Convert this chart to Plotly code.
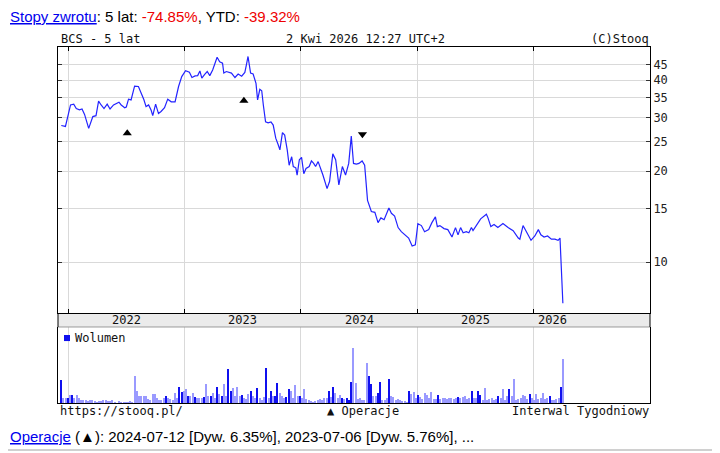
import pandas as pd
import plotly.graph_objects as go

# --- dane: kurs tygodniowy BCS ---
price_dates = [
    '2021-12-10', '2021-12-23', '2022-01-08', '2022-01-18', '2022-01-26', '2022-02-05', '2022-02-13',
    '2022-02-21', '2022-03-06', '2022-03-14', '2022-03-19', '2022-03-29', '2022-04-06', '2022-04-14',
    '2022-04-23', '2022-05-03', '2022-05-12', '2022-05-23', '2022-06-09', '2022-06-16', '2022-06-27',
    '2022-07-02', '2022-07-09', '2022-07-17', '2022-07-28', '2022-08-09', '2022-08-18', '2022-08-26',
    '2022-09-02', '2022-09-10', '2022-09-18', '2022-09-23', '2022-10-02', '2022-10-11', '2022-10-19',
    '2022-10-30', '2022-11-09', '2022-11-20', '2022-12-02', '2022-12-13', '2022-12-23', '2023-01-04',
    '2023-01-16', '2023-01-24', '2023-02-03', '2023-02-11', '2023-02-18', '2023-02-24', '2023-03-05',
    '2023-03-13', '2023-03-21', '2023-03-30', '2023-04-13', '2023-04-21', '2023-04-30', '2023-05-04',
    '2023-05-12', '2023-05-21', '2023-05-28', '2023-06-08', '2023-06-18', '2023-06-29', '2023-07-09',
    '2023-07-14', '2023-07-19', '2023-07-27', '2023-08-04', '2023-08-13', '2023-08-18', '2023-08-25',
    '2023-08-31', '2023-09-05', '2023-09-12', '2023-09-20', '2023-09-29', '2023-10-06', '2023-10-14',
    '2023-10-22', '2023-10-27', '2023-11-04', '2023-11-11', '2023-11-19', '2023-11-25', '2023-12-03',
    '2023-12-08', '2023-12-16', '2023-12-20', '2023-12-27', '2024-01-03', '2024-01-10', '2024-01-17',
    '2024-01-27', '2024-02-03', '2024-02-10', '2024-02-16', '2024-02-24', '2024-03-02', '2024-03-10',
    '2024-03-23', '2024-03-31', '2024-04-10', '2024-04-19', '2024-04-29', '2024-05-10', '2024-05-20',
    '2024-05-30', '2024-06-07', '2024-06-14', '2024-06-23', '2024-07-01', '2024-07-11', '2024-07-19',
    '2024-07-28', '2024-08-09', '2024-08-20', '2024-08-30', '2024-09-08', '2024-09-18', '2024-10-03',
    '2024-10-11', '2024-10-21', '2024-11-01', '2024-11-11', '2024-11-27', '2024-12-04', '2024-12-15',
    '2024-12-25', '2025-01-02', '2025-01-13', '2025-01-23', '2025-02-05', '2025-02-15', '2025-02-26',
    '2025-03-04', '2025-03-12', '2025-03-25', '2025-04-06', '2025-04-19', '2025-04-30', '2025-05-08',
    '2025-05-16', '2025-05-24', '2025-06-03', '2025-06-11', '2025-06-19', '2025-06-24', '2025-07-05',
    '2025-07-18', '2025-08-05', '2025-08-10', '2025-08-19', '2025-08-29', '2025-09-10', '2025-09-26',
    '2025-10-12', '2025-10-28', '2025-11-13', '2025-11-18', '2025-11-28', '2025-12-09', '2025-12-23',
    '2026-01-04', '2026-01-15', '2026-01-23', '2026-02-02', '2026-02-13', '2026-02-25', '2026-03-08',
    '2026-03-18', '2026-03-24', '2026-04-02',
]
price_values = [
    28.3, 28.1, 33.1, 33.3, 32.2, 31.9, 32.1,
    30.8, 27.7, 29.5, 30.3, 30.5, 34.1, 33.1,
    32.2, 33.3, 32.1, 33.1, 33.8, 33.1, 32.4,
    32.6, 34.6, 34.4, 38.2, 38.1, 36.2, 34.5,
    32.7, 33.1, 31.8, 30.5, 33.3, 31.0, 31.5,
    32.4, 34.6, 33.9, 33.9, 38.1, 41.1, 43.0,
    42.5, 40.8, 41.3, 41.4, 42.9, 40.6, 41.8,
    42.7, 41.4, 43.2, 47.6, 46.0, 45.5, 42.2,
    42.7, 42.4, 42.2, 40.8, 41.9, 41.2, 42.4,
    45.0, 47.9, 42.2, 41.9, 39.0, 34.4, 37.3,
    36.9, 33.1, 29.1, 28.9, 29.1, 28.4, 25.7,
    24.4, 23.5, 26.8, 26.3, 23.5, 20.9, 22.3,
    20.7, 20.5, 19.4, 21.8, 22.2, 19.6, 20.4,
    20.7, 21.6, 21.2, 20.7, 21.5, 20.6, 19.4,
    17.5, 18.5, 22.8, 21.8, 18.0, 20.7, 19.4,
    21.2, 26.1, 21.2, 21.1, 21.2, 21.6, 20.9,
    16.0, 14.7, 14.6, 13.5, 14.0, 13.8, 15.1,
    14.5, 14.2, 13.0, 12.6, 12.2, 12.0, 11.3,
    11.4, 13.4, 13.2, 12.6, 12.8, 13.5, 14.1,
    13.1, 13.2, 12.9, 12.8, 12.1, 13.0, 12.3,
    13.0, 12.5, 12.6, 12.5, 13.0, 12.7, 13.2,
    13.9, 14.4, 14.0, 13.1, 13.3, 13.0, 13.4,
    13.0, 12.7, 12.0, 11.9, 13.2, 12.6, 11.8,
    12.2, 12.8, 12.3, 12.1, 12.2, 11.9, 11.9,
    11.8, 12.0, 7.3,
]

# wolumen tygodniowy (jednostki umowne), od 2021-12-10 co tydzien
volume_start = '2021-12-10'
volume_values = [
    23.0, 5.0, 4.7, 5.3, 7.7, 8.0, 5.0, 7.7, 5.0, 3.3,
    2.7, 2.7, 2.0, 2.7, 3.3, 2.0, 1.3, 2.0, 2.0, 3.3,
    2.7, 2.0, 2.0, 2.7, 0.7, 0.0, 2.0, 1.3, 0.7, 1.3,
    0.7, 2.0, 1.3, 27.3, 11.7, 7.3, 7.3, 7.3, 7.3, 4.0,
    2.7, 9.3, 9.3, 4.7, 3.3, 3.3, 4.7, 6.7, 5.3, 4.0,
    3.3, 10.3, 5.3, 16.0, 11.0, 12.0, 13.7, 6.7, 7.3, 10.3,
    6.0, 4.7, 5.3, 5.3, 6.0, 18.7, 6.7, 6.7, 10.0, 5.3,
    16.0, 9.3, 6.7, 18.7, 6.7, 34.0, 12.0, 14.7, 6.7, 16.0,
    6.7, 8.0, 5.3, 4.0, 9.3, 12.0, 6.7, 5.3, 15.0, 5.3,
    3.3, 6.0, 35.3, 5.3, 12.0, 7.3, 6.7, 20.0, 10.0, 6.7,
    5.3, 6.0, 14.0, 12.0, 5.3, 17.7, 7.3, 6.7, 4.7, 14.3,
    4.0, 2.7, 2.0, 1.3, 2.0, 2.7, 4.0, 3.3, 5.3, 5.3,
    12.0, 6.0, 16.0, 10.0, 5.3, 7.7, 5.3, 4.0, 5.3, 3.3,
    21.0, 55.3, 20.0, 4.0, 5.3, 3.3, 3.3, 40.0, 27.3, 18.7,
    7.3, 7.3, 10.0, 21.0, 2.7, 3.3, 5.3, 24.0, 7.3, 6.0,
    3.3, 4.3, 2.7, 2.0, 2.0, 1.3, 12.0, 9.3, 11.0, 5.3,
    7.7, 6.0, 4.3, 10.0, 7.7, 5.3, 11.0, 4.3, 4.3, 7.7,
    4.0, 4.7, 4.7, 4.0, 4.7, 4.7, 4.3, 5.3, 6.0, 5.3,
    6.0, 6.7, 4.0, 4.7, 12.0, 5.3, 5.3, 12.0, 7.7, 3.3,
    15.3, 3.3, 4.3, 5.3, 3.3, 4.3, 6.7, 5.3, 14.3, 3.3,
    6.7, 14.3, 6.7, 24.0, 3.3, 4.3, 5.3, 7.7, 6.7, 4.0,
    8.7, 5.3, 3.3, 8.7, 4.3, 5.3, 10.0, 4.0, 5.3, 6.7,
    3.3, 3.3, 4.3, 5.3, 16.0, 44.0,
]
# tygodnie wzrostowe (ciemniejsze slupki)
volume_up_weeks = [0, 3, 5, 47, 53, 54, 57, 60, 64, 67, 70, 72, 75, 76, 81, 85, 88, 92, 94, 96,
                   97, 101, 102, 107, 120, 122, 126, 128, 129, 130, 138, 139, 142, 143, 147, 156,
                   160, 169, 178, 184, 187, 188, 196, 201, 210, 219, 224]

# operacje (dywidendy)
op_up_dates = ['2022-07-05', '2023-07-06']
op_up_values = [26.7, 34.2]
op_down_dates = ['2024-07-12']
op_down_values = [26.5]

price_ticks = [10, 15, 20, 25, 30, 35, 40, 45]
year_starts = ['2022-01-01', '2023-01-01', '2024-01-01', '2025-01-01', '2026-01-01']
year_labels = ['2022', '2023', '2024', '2025', '2026']
year_label_dates = ['2022-07-02', '2023-07-02', '2024-07-02', '2025-07-02', '2026-03-01']

volume_dates = pd.date_range(volume_start, periods=len(volume_values), freq='7D')
volume_colors = ['#1010ee' if i in volume_up_weeks else '#9a9aff' for i in range(len(volume_values))]

MONO = 'DejaVu Sans Mono'
SANS = 'Liberation Sans, Arial'
x_range = ['2021-11-29 16:00', '2026-12-31 10:00']

fig = go.Figure()

fig.add_trace(go.Scatter(
    x=price_dates, y=price_values, mode='lines',
    line=dict(color='#2323ff', width=1.2),
    xaxis='x', yaxis='y', showlegend=False,
))
fig.add_trace(go.Scatter(
    x=op_up_dates, y=op_up_values, mode='markers',
    marker=dict(symbol='triangle-up', size=8, color='black'),
    xaxis='x', yaxis='y', showlegend=False,
))
fig.add_trace(go.Scatter(
    x=op_down_dates, y=op_down_values, mode='markers',
    marker=dict(symbol='triangle-down', size=8, color='black'),
    xaxis='x', yaxis='y', showlegend=False,
))
fig.add_trace(go.Bar(
    x=volume_dates, y=volume_values,
    marker=dict(color=volume_colors, line=dict(width=0)),
    width=4.5 * 86400000,
    xaxis='x2', yaxis='y2', showlegend=False,
))

# strona ma 8px marginesu body, wiec figura jest o 8px mniejsza
grid = '#d9d9d9'
fig.update_layout(
    width=712, height=445,
    margin=dict(l=50, r=70, t=39, b=50),
    paper_bgcolor='white', plot_bgcolor='white',
    bargap=0,
    xaxis=dict(
        domain=[0, 1], anchor='y', type='date', range=x_range,
        tickvals=year_starts, showticklabels=False,
        showgrid=True, gridcolor=grid, gridwidth=1,
        ticks='inside', ticklen=4, tickcolor='black',
        showline=True, linecolor='black', linewidth=1, mirror='ticks',
        zeroline=False,
    ),
    yaxis=dict(
        domain=[0.2528, 1], anchor='x', type='log',
        range=[0.8312, 1.7117], side='right',
        tickvals=price_ticks, ticktext=[str(t) for t in price_ticks],
        tickfont=dict(family=MONO, size=12, color='#222'),
        showgrid=True, gridcolor=grid, gridwidth=1,
        ticks='inside', ticklen=4, tickcolor='#333',
        showline=True, linecolor='black', linewidth=1, mirror='ticks',
        zeroline=False,
    ),
    xaxis2=dict(
        domain=[0, 1], anchor='y2', type='date', range=x_range, matches='x',
        tickvals=year_starts, showticklabels=False,
        showgrid=True, gridcolor=grid, gridwidth=1,
        ticks='', showline=True, linecolor='black', linewidth=1,
        zeroline=False,
    ),
    yaxis2=dict(
        domain=[0, 0.2135], anchor='x2', range=[0, 76],
        showticklabels=False, showgrid=False, ticks='',
        showline=True, linecolor='black', linewidth=1, mirror=True,
        zeroline=False,
    ),
)

# pas z latami miedzy panelami
fig.add_shape(type='rect', xref='paper', yref='paper', x0=0, x1=1, y0=0.2135, y1=0.2528,
              fillcolor='#ebebeb', line=dict(width=0), layer='below')
fig.add_shape(type='line', xref='paper', yref='paper', x0=0, x1=1, y0=0.2135, y1=0.2135,
              line=dict(color='#9a9a9a', width=1))
fig.add_shape(type='line', xref='paper', yref='paper', x0=0, x1=0, y0=0.2135, y1=0.2528,
              line=dict(color='black', width=1))
fig.add_shape(type='line', xref='paper', yref='paper', x0=1, x1=1, y0=0.2135, y1=0.2528,
              line=dict(color='black', width=1))
for lbl, d in zip(year_labels, year_label_dates):
    fig.add_annotation(x=d, xref='x', y=0.233, yref='paper', text=lbl, showarrow=False,
                       font=dict(family=MONO, size=12, color='#111'), xanchor='center', yanchor='middle')

# legenda wolumenu
fig.add_shape(type='rect', xref='paper', yref='paper', x0=0.0101, x1=0.0203, y0=0.174, y1=0.191,
              fillcolor='#1010ee', line=dict(width=0))
fig.add_annotation(x=0.0253, y=0.1826, xref='paper', yref='paper', text='Wolumen', showarrow=False,
                   font=dict(family=MONO, size=12, color='#111'), xanchor='left', yanchor='middle')

# naglowek wykresu
mono = dict(family=MONO, size=12, color='#111')
fig.add_annotation(x=0.0017, y=1.0225, xref='paper', yref='paper', text='BCS - 5 lat', showarrow=False,
                   font=mono, xanchor='left', yanchor='middle')
fig.add_annotation(x=0.3818, y=1.0225, xref='paper', yref='paper', text='2 Kwi 2026 12:27 UTC+2',
                   showarrow=False, font=mono, xanchor='left', yanchor='middle')
fig.add_annotation(x=1.0017, y=1.0225, xref='paper', yref='paper', text='(C)Stooq', showarrow=False,
                   font=mono, xanchor='right', yanchor='middle')

# stopka wykresu
fig.add_annotation(x=0.0, y=-0.0225, xref='paper', yref='paper', text='https://stooq.pl/', showarrow=False,
                   font=mono, xanchor='left', yanchor='middle')
fig.add_annotation(x=0.515, y=-0.0225, xref='paper', yref='paper', text='▲ Operacje', showarrow=False,
                   font=mono, xanchor='center', yanchor='middle')
fig.add_annotation(x=1.0017, y=-0.0225, xref='paper', yref='paper', text='Interwal Tygodniowy',
                   showarrow=False, font=mono, xanchor='right', yanchor='middle')

# teksty strony
link = '#0000ee'
red = '#ee0000'
fig.add_annotation(
    x=-0.0828, y=1.0857, xref='paper', yref='paper', showarrow=False, xanchor='left', yanchor='middle',
    borderpad=0, font=dict(family=SANS, size=15, color='black'),
    text=(f"<span style='color:{link}'><u>Stopy zwrotu</u></span>: 5 lat: "
          f"<span style='color:{red}'>-74.85%</span>, YTD: <span style='color:{red}'>-39.32%</span>"),
)
fig.add_annotation(
    x=-0.0828, y=-0.0927, xref='paper', yref='paper', showarrow=False, xanchor='left', yanchor='middle',
    borderpad=0, font=dict(family=SANS, size=15, color='black'),
    text=(f"<span style='color:{link}'><u>Operacje</u></span> (▲): 2024-07-12 [Dyw. 6.35%], "
          "2023-07-06 [Dyw. 5.76%], ..."),
)
fig.add_shape(type='line', xref='paper', yref='paper', x0=-0.098, x1=1.118, y0=-0.132, y1=-0.132,
              line=dict(color='#d0d0d0', width=2))

fig.write_html('out.html')
